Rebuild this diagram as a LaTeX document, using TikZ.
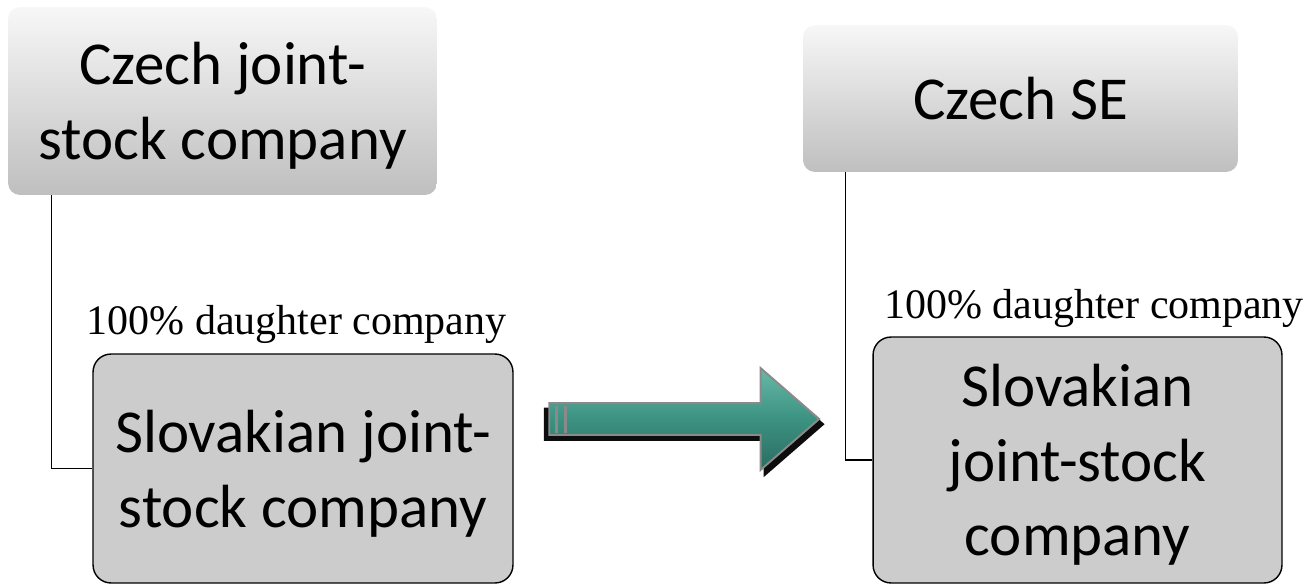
\documentclass[tikz,border=0pt]{standalone}
\usepackage{fontspec}
\setmainfont{Carlito}
\newfontfamily\lblfont{Liberation Serif}
\usetikzlibrary{shapes.arrows,shadows}

\definecolor{boxtop}{RGB}{247,247,247}
\definecolor{boxbot}{RGB}{191,191,191}
\definecolor{subfill}{RGB}{204,204,204}
\definecolor{arrlight}{RGB}{104,184,168}
\definecolor{arrmid}{RGB}{60,146,130}
\definecolor{arrdark}{RGB}{42,108,96}
\definecolor{arredge}{RGB}{138,138,138}

\tikzset{
  topbox/.style={rounded corners=0.24cm,top color=boxtop,bottom color=boxbot,align=center,
    font=\fontsize{34.7}{42.5}\selectfont,inner sep=2pt,text depth=0pt},
  subbox/.style={draw=black,line width=0.8pt,rounded corners=0.36cm,fill=subfill,align=center,
    font=\fontsize{34.7}{42.5}\selectfont,inner sep=2pt,text depth=0pt},
  sharelbl/.style={anchor=base,inner sep=0pt,font=\lblfont\fontsize{23.9}{28}\selectfont},
  link/.style={line width=0.8pt},
  stripe/.style={draw=arredge,line width=1.6pt}
}

\begin{document}
\begin{tikzpicture}[x=0.02cm,y=-0.02cm]
\useasboundingbox (0,0) rectangle (1310,584);
% before
\node[topbox,minimum width=8.58cm,minimum height=3.76cm] (czech_as) at (222.5,101) {Czech joint-\\stock company};
\node[subbox,minimum width=8.40cm,minimum height=4.58cm] (slovak_l) at (303,468.5) {Slovakian joint-\\stock company};
\node[sharelbl] (lbl_l) at (296.5,334) {100\% daughter company};
\draw[link] ([xshift=0.88cm]czech_as.south west) |- (slovak_l.west);
% after
\node[topbox,minimum width=8.70cm,minimum height=2.94cm] (czech_se) at (1020.5,98.5) {Czech SE};
\node[subbox,minimum width=8.18cm,minimum height=4.92cm,text depth=-5.7pt] (slovak_r) at (1077.5,460) {Slovakian\\joint-stock\\company};
\node[sharelbl] (lbl_r) at (1094,318) {100\% daughter company};
\draw[link] ([xshift=0.86cm]czech_se.south west) |- (slovak_r.west);
% transformation arrow
\node[single arrow,draw=arredge,line width=1.1pt,top color=arrlight,bottom color=arrdark,middle color=arrmid,
  minimum height=5.4cm,inner sep=0.3cm,single arrow head extend=0.7cm,single arrow tip angle=82,
  drop shadow={shadow xshift=0cm,shadow yshift=-0.1cm,shadow scale=1.04,fill=black,opacity=0.95}] (move_arr) at (675,419) {};
\draw[stripe] ([shift={(0.16cm,0.27cm)}]move_arr.west) -- ([shift={(0.16cm,-0.27cm)}]move_arr.west);
\draw[stripe] ([shift={(0.34cm,0.27cm)}]move_arr.west) -- ([shift={(0.34cm,-0.27cm)}]move_arr.west);
\end{tikzpicture}
\end{document}
